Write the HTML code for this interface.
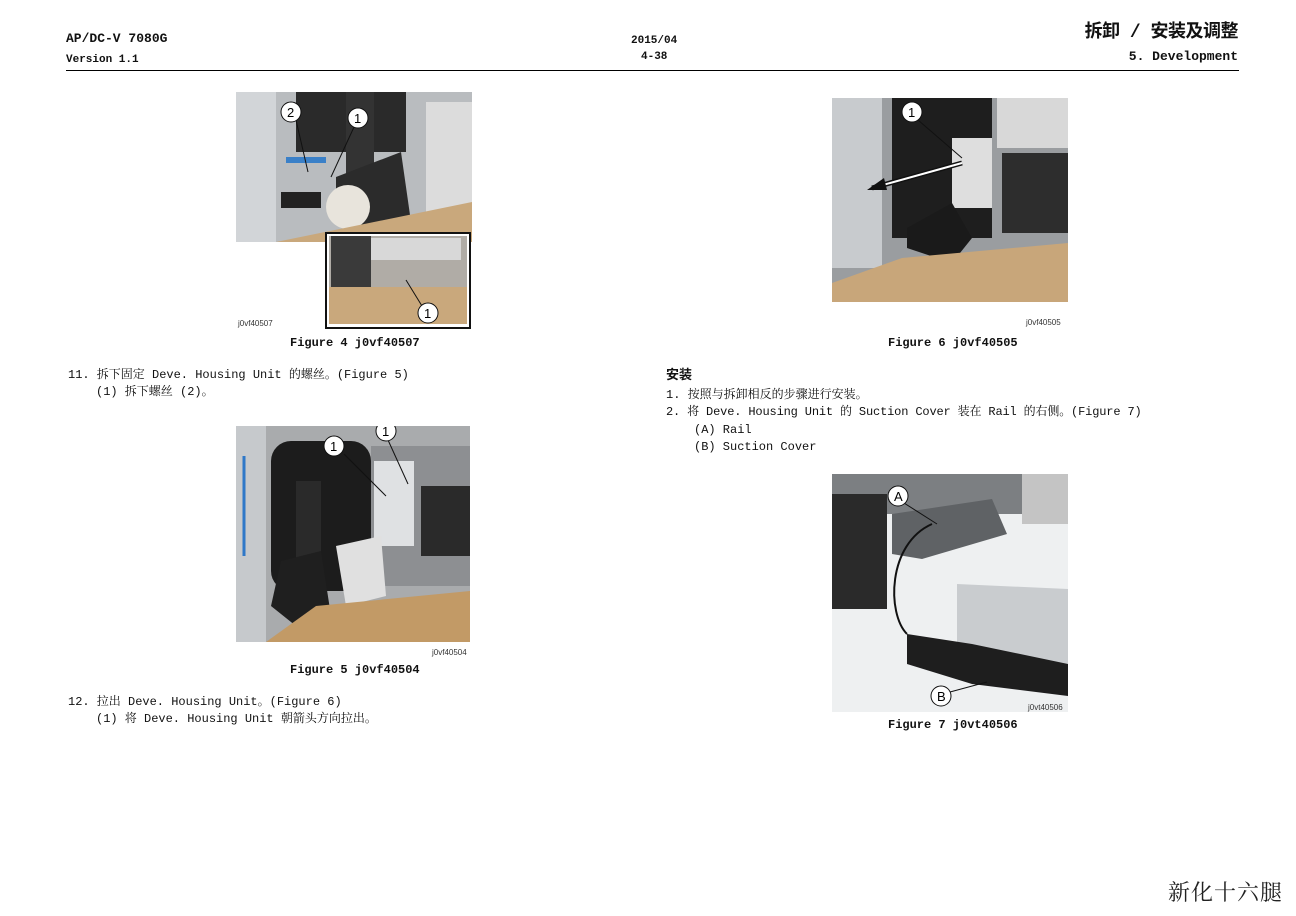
<!DOCTYPE html>
<html><head><meta charset="utf-8"><style>
html,body{margin:0;padding:0;background:#fff;}
body{width:1296px;height:916px;position:relative;overflow:hidden;font-family:"Liberation Mono","Noto Serif CJK SC",monospace;color:#111;}
.t{position:absolute;white-space:nowrap;font-size:12px;line-height:17px;}
.b{font-weight:bold;}
.h{font-family:"Liberation Mono","Noto Sans CJK SC",monospace;font-weight:bold;}
svg{position:absolute;}
.c{font-family:"Liberation Sans",sans-serif;font-size:13px;}
.lab{font-family:"Liberation Sans",sans-serif;font-size:8px;fill:#333;}
</style></head><body>
<div class="t h" style="left:66px;top:30px;font-size:13px;">AP/DC-V 7080G</div>
<div class="t h" style="left:66px;top:52px;font-size:11px;">Version 1.1</div>
<div class="t h" style="left:631px;top:33px;font-size:11px;">2015/04</div>
<div class="t h" style="left:641px;top:49px;font-size:11px;">4-38</div>
<div class="t h" style="right:58px;top:22px;font-size:18px;line-height:22px;letter-spacing:-0.5px;">拆卸 / 安装及调整</div>
<div class="t h" style="right:58px;top:48px;font-size:13px;">5. Development</div>
<div style="position:absolute;left:66px;top:70px;width:1173px;height:1px;background:#000;"></div>

<!-- Figure 4 -->
<svg style="left:236px;top:92px" width="236" height="238" viewBox="0 0 236 238">
<rect x="0" y="0" width="236" height="150" fill="#b9bcbf"/>
<rect x="0" y="0" width="40" height="150" fill="#d2d5d8"/>
<rect x="60" y="0" width="110" height="60" fill="#2a2a2a"/>
<rect x="110" y="0" width="28" height="110" fill="#333"/>
<rect x="190" y="10" width="46" height="110" fill="#dcdcdc"/>
<polygon points="100,85 165,60 175,130 120,135 100,120" fill="#2b2b2b"/>
<circle cx="112" cy="115" r="22" fill="#e8e4dc"/>
<polygon points="40,150 236,110 236,150" fill="#c9a87c"/>
<rect x="45" y="100" width="40" height="16" fill="#222"/>
<rect x="50" y="65" width="40" height="6" fill="#3a80c8"/>
<rect x="0" y="150" width="90" height="88" fill="#fff"/>
<rect x="90" y="141" width="144" height="95" fill="#fff" stroke="#111" stroke-width="2"/>
<rect x="93" y="144" width="138" height="88" fill="#b0aca6"/>
<rect x="95" y="144" width="40" height="88" fill="#3a3a3a"/>
<rect x="135" y="146" width="90" height="22" fill="#d8d8d8"/>
<rect x="93" y="195" width="138" height="37" fill="#c9a87c"/>
<line x1="170" y1="188" x2="186" y2="214" stroke="#111"/>
<circle cx="192" cy="221" r="10" fill="#fff" stroke="#111"/><text x="188" y="226" class="c">1</text>
<line x1="60" y1="28" x2="72" y2="80" stroke="#111"/>
<circle cx="55" cy="20" r="10" fill="#fff" stroke="#111"/><text x="51" y="25" class="c">2</text>
<line x1="118" y1="35" x2="95" y2="85" stroke="#111"/>
<circle cx="122" cy="26" r="10" fill="#fff" stroke="#111"/><text x="118" y="31" class="c">1</text>
<text x="2" y="234" class="lab">j0vf40507</text>
</svg>
<div class="t b" style="left:290px;top:335px;">Figure 4 j0vf40507</div>

<div class="t" style="left:68px;top:367px;">11. 拆下固定 Deve. Housing Unit 的螺丝。(Figure 5)</div>
<div class="t" style="left:96px;top:384px;">(1) 拆下螺丝 (2)。</div>

<!-- Figure 5 -->
<svg style="left:236px;top:426px" width="236" height="232" viewBox="0 0 236 232">
<rect width="234" height="216" fill="#a9abad"/>
<rect x="0" y="0" width="30" height="216" fill="#c6c9cc"/>
<rect x="35" y="15" width="100" height="150" rx="20" fill="#1c1c1c"/>
<rect x="135" y="20" width="99" height="140" fill="#8d8f92"/>
<rect x="60" y="55" width="25" height="110" fill="#2a2a2a"/>
<polygon points="45,135 85,125 95,190 60,200 35,180" fill="#1f1f1f"/>
<rect x="138" y="35" width="40" height="85" fill="#dfe1e3"/>
<polygon points="100,120 145,110 150,170 110,180" fill="#e0e0e0"/>
<rect x="185" y="60" width="49" height="70" fill="#2a2a2a"/>
<polygon points="30,216 80,180 234,165 234,216" fill="#c29a66"/>
<path d="M8,30 L8,130" stroke="#2f78c8" stroke-width="3" fill="none"/>
<line x1="108" y1="28" x2="150" y2="70" stroke="#111"/>
<circle cx="98" cy="20" r="10" fill="#fff" stroke="#111"/><text x="94" y="25" class="c">1</text>
<line x1="152" y1="14" x2="172" y2="58" stroke="#111"/>
<circle cx="150" cy="5" r="10" fill="#fff" stroke="#111"/><text x="146" y="10" class="c">1</text>
<text x="196" y="229" class="lab">j0vf40504</text>
</svg>
<div class="t b" style="left:290px;top:662px;">Figure 5 j0vf40504</div>

<div class="t" style="left:68px;top:694px;">12. 拉出 Deve. Housing Unit。(Figure 6)</div>
<div class="t" style="left:96px;top:711px;">(1) 将 Deve. Housing Unit 朝箭头方向拉出。</div>

<!-- Figure 6 -->
<svg style="left:832px;top:98px" width="236" height="232" viewBox="0 0 236 232">
<rect width="236" height="204" fill="#9a9da0"/>
<rect x="0" y="0" width="50" height="170" fill="#c8cbce"/>
<rect x="60" y="0" width="100" height="140" fill="#1e1e1e"/>
<rect x="165" y="0" width="71" height="50" fill="#d8d8d8"/>
<rect x="170" y="55" width="66" height="80" fill="#2d2d2d"/>
<rect x="120" y="40" width="40" height="70" fill="#dedede"/>
<polygon points="75,130 120,105 140,140 120,165 75,150" fill="#1a1a1a"/>
<polygon points="0,185 70,160 236,145 236,204 0,204" fill="#c8a67a"/>
<path d="M40,90 L130,65" stroke="#111" stroke-width="5"/>
<path d="M40,90 L130,65" stroke="#fff" stroke-width="2"/>
<polygon points="35,92 52,80 55,92" fill="#111"/>
<line x1="86" y1="22" x2="130" y2="60" stroke="#111"/>
<circle cx="80" cy="14" r="10" fill="#fff" stroke="#111"/><text x="76" y="19" class="c">1</text>
<text x="194" y="227" class="lab">j0vf40505</text>
</svg>
<div class="t b" style="left:888px;top:335px;">Figure 6 j0vf40505</div>

<div class="t h" style="left:666px;top:367px;font-size:13px;">安装</div>
<div class="t" style="left:666px;top:387px;">1.  按照与拆卸相反的步骤进行安装。</div>
<div class="t" style="left:666px;top:404px;letter-spacing:-0.15px;">2.  将 Deve. Housing Unit 的 Suction Cover 装在 Rail 的右侧。(Figure 7)</div>
<div class="t" style="left:694px;top:422px;">(A) Rail</div>
<div class="t" style="left:694px;top:439px;">(B) Suction Cover</div>

<!-- Figure 7 -->
<svg style="left:832px;top:474px" width="236" height="240" viewBox="0 0 236 240">
<rect width="236" height="238" fill="#eef0f1"/>
<rect x="0" y="0" width="236" height="40" fill="#7c7f82"/>
<rect x="0" y="20" width="55" height="115" fill="#2a2a2a"/>
<polygon points="60,40 160,25 175,60 90,85 60,80" fill="#5f6265"/>
<rect x="190" y="0" width="46" height="50" fill="#c4c4c4"/>
<polygon points="125,110 236,115 236,190 125,180" fill="#c9cccf"/>
<polygon points="75,160 140,170 236,190 236,222 140,210 75,190" fill="#1e1e1e"/>
<path d="M100,50 C55,70 55,140 75,160" stroke="#111" stroke-width="2" fill="none"/>
<line x1="72" y1="29" x2="105" y2="50" stroke="#111"/>
<circle cx="66" cy="22" r="10" fill="#fff" stroke="#111"/><text x="62" y="27" class="c">A</text>
<line x1="118" y1="218" x2="155" y2="208" stroke="#111"/>
<circle cx="109" cy="222" r="10" fill="#fff" stroke="#111"/><text x="105" y="227" class="c">B</text>
<text x="196" y="236" class="lab">j0vt40506</text>
</svg>
<div class="t b" style="left:888px;top:717px;">Figure 7 j0vt40506</div>

<div class="t" style="left:1168px;top:878px;font-family:'Noto Serif CJK SC',serif;font-size:22px;line-height:28px;letter-spacing:1px;color:#222;">新化十六腿</div>
</body></html>
